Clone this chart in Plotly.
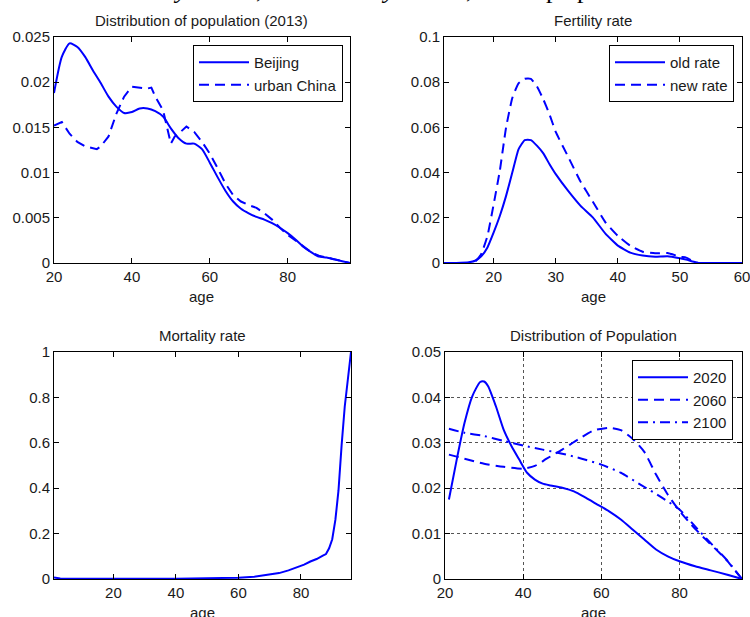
import plotly.graph_objects as go

# ---------------- data ----------------
ages_2013 = [20, 22, 24, 26, 28, 30, 32, 34, 36, 38, 40, 42, 44, 46, 48, 50, 52, 54, 56, 58,
             60, 62, 64, 66, 68, 70, 72, 74, 76, 78, 80, 82, 84, 86, 88, 90, 92, 94, 96]
beijing = [0.0188, 0.0228, 0.0243, 0.0239, 0.0228, 0.0213, 0.0199, 0.0184, 0.0173, 0.0166,
           0.0167, 0.0171, 0.0171, 0.0168, 0.0162, 0.0149, 0.0138, 0.0132, 0.0132, 0.0126,
           0.0111, 0.0095, 0.0080, 0.0068, 0.0060, 0.0055, 0.0051, 0.0048, 0.0044, 0.0039,
           0.0033, 0.0026, 0.0018, 0.0012, 0.0007, 0.0006, 0.0004, 0.0002, 0.0000]

ages_urban = [20, 22, 24, 26, 28, 30, 31, 32, 34, 36, 38, 40, 42, 44, 45, 46, 48, 49, 50, 51,
              52, 54, 56, 58, 60, 62, 64, 66, 68, 70, 72, 74, 76, 78, 80, 82, 84, 86, 88, 90,
              92, 94, 96]
urban_china = [0.0152, 0.0156, 0.0143, 0.0134, 0.0129, 0.0127, 0.0126, 0.0129, 0.0140, 0.0165,
               0.0184, 0.0195, 0.0194, 0.0193, 0.0194, 0.0184, 0.0169, 0.0151, 0.0132, 0.0140,
               0.0143, 0.0151, 0.0145, 0.0134, 0.0121, 0.0105, 0.0088, 0.0075, 0.0068, 0.0064,
               0.0061, 0.0055, 0.0048, 0.0039, 0.0031, 0.0025, 0.0018, 0.0012, 0.0008, 0.0006,
               0.0004, 0.0002, 0.0000]

ages_fert = [12, 14, 16, 17, 18, 19, 20, 21, 22, 23, 24, 25, 26, 27, 28, 29, 30, 32, 34, 36,
             38, 40, 42, 44, 46, 48, 50, 51, 52, 53, 56, 60]
old_rate = [0, 0, 0.0003, 0.0010, 0.0030, 0.0069, 0.0135, 0.0209, 0.0297, 0.0400, 0.0503,
            0.0544, 0.0544, 0.0518, 0.0485, 0.0437, 0.0393, 0.0319, 0.0253, 0.0201,
            0.0130, 0.0077, 0.0046, 0.0033, 0.0028, 0.0030, 0.0021, 0.0015, 0.0007, 0, 0, 0]
new_rate = [0, 0, 0, 0.0006, 0.0040, 0.0120, 0.0260, 0.0410, 0.0600, 0.0730, 0.0795,
            0.0815, 0.0815, 0.0780, 0.0724, 0.0657, 0.0580, 0.0470, 0.0360, 0.0270,
            0.0180, 0.0120, 0.0076, 0.0050, 0.0043, 0.0044, 0.0028, 0.0024, 0.0010, 0, 0, 0]

ages_mort = [1, 2, 3, 5, 10, 20, 30, 40, 50, 55, 60, 65, 70, 73, 76, 79, 81, 83, 85, 87,
             88, 89, 90, 91, 92, 93, 94, 95, 96]
mortality = [0.007, 0.004, 0.002, 0.001, 0.0005, 0.001, 0.001, 0.0015, 0.003, 0.004, 0.006,
             0.010, 0.018, 0.026, 0.038, 0.052, 0.063, 0.077, 0.088, 0.103, 0.110, 0.135,
             0.175, 0.26, 0.39, 0.59, 0.76, 0.88, 1.0]

ages_2020 = [21, 23, 25, 27, 29, 30, 31, 33, 35, 37, 39, 41, 43, 45, 47, 50, 53, 56, 59, 62,
             65, 68, 71, 74, 77, 80, 84, 88, 92, 96]
pop_2020 = [0.0175, 0.0263, 0.0344, 0.0403, 0.0434, 0.0435, 0.0425, 0.0381, 0.0329, 0.0293,
            0.0263, 0.0234, 0.0219, 0.0210, 0.0206, 0.0201, 0.0193, 0.0179, 0.0164, 0.0149,
            0.0131, 0.0109, 0.0087, 0.0065, 0.0050, 0.0039, 0.0028, 0.0019, 0.0010, 0.0]

ages_2060 = [21, 25, 30, 35, 40, 43, 46, 50, 54, 58, 62, 65, 68, 71, 74, 77, 80, 83, 86, 89,
             92, 96]
pop_2060 = [0.0274, 0.0265, 0.0254, 0.0247, 0.0243, 0.0249, 0.0265, 0.0285, 0.0307, 0.0327,
            0.0333, 0.0328, 0.0309, 0.0280, 0.0230, 0.0186, 0.0150, 0.0120, 0.0093, 0.0068,
            0.0042, 0.0]

ages_2100 = [21, 25, 30, 35, 40, 45, 50, 55, 60, 65, 70, 75, 80, 84, 88, 92, 96]
pop_2100 = [0.0331, 0.0322, 0.0315, 0.0304, 0.0294, 0.0285, 0.0276, 0.0265, 0.0252, 0.0234,
            0.0208, 0.0182, 0.0153, 0.0116, 0.0079, 0.0043, 0.0]

panel_titles = ["Distribution of population (2013)", "Fertility rate",
                "Mortality rate", "Distribution of Population"]
x_label = "age"

# ---------------- styling ----------------
W, H = 750, 617
BLUE = "#0000ff"
FONT = "Liberation Sans, Arial, Helvetica, sans-serif"
TXT = "#1a1a1a"
LW = 2
DASH = "10px,6px"
DASHDOT = "10px,5px,2px,5px"


def px(v):  # horizontal pixel -> paper
    return v / W


def py(v):  # vertical pixel (from top) -> paper
    return 1 - v / H


fig = go.Figure()

fig.add_trace(go.Scatter(x=ages_2013, y=beijing, name="Beijing", mode="lines",
                         line=dict(color=BLUE, width=LW, shape="spline", smoothing=0.6),
                         xaxis="x", yaxis="y", legend="legend"))
fig.add_trace(go.Scatter(x=ages_urban, y=urban_china, name="urban China", mode="lines",
                         line=dict(color=BLUE, width=LW, dash=DASH),
                         xaxis="x", yaxis="y", legend="legend"))

fig.add_trace(go.Scatter(x=ages_fert, y=old_rate, name="old rate", mode="lines",
                         line=dict(color=BLUE, width=LW, shape="spline", smoothing=0.4),
                         xaxis="x2", yaxis="y2", legend="legend2"))
fig.add_trace(go.Scatter(x=ages_fert, y=new_rate, name="new rate", mode="lines",
                         line=dict(color=BLUE, width=LW, dash=DASH, shape="spline", smoothing=0.4),
                         xaxis="x2", yaxis="y2", legend="legend2"))

fig.add_trace(go.Scatter(x=ages_mort, y=mortality, name="mortality", mode="lines",
                         line=dict(color=BLUE, width=LW), showlegend=False,
                         xaxis="x3", yaxis="y3"))

fig.add_trace(go.Scatter(x=ages_2020, y=pop_2020, name="2020", mode="lines",
                         line=dict(color=BLUE, width=LW, shape="spline", smoothing=0.6),
                         xaxis="x4", yaxis="y4", legend="legend3"))
fig.add_trace(go.Scatter(x=ages_2060, y=pop_2060, name="2060", mode="lines",
                         line=dict(color=BLUE, width=LW, dash=DASH, shape="spline", smoothing=0.6),
                         xaxis="x4", yaxis="y4", legend="legend3"))
fig.add_trace(go.Scatter(x=ages_2100, y=pop_2100, name="2100", mode="lines",
                         line=dict(color=BLUE, width=LW, dash=DASHDOT, shape="spline", smoothing=0.6),
                         xaxis="x4", yaxis="y4", legend="legend3"))

axis_common = dict(showline=True, linecolor="black", linewidth=1, mirror="ticks",
                   ticks="inside", ticklen=5, tickcolor="black", showgrid=False,
                   zeroline=False, ticklabeloverflow="allow",
                   tickfont=dict(family=FONT, size=15, color=TXT))
grid = dict(showgrid=True, griddash="dot", gridcolor="#555555", gridwidth=1)

top_dom = [py(263), py(37)]
bot_dom = [py(579), py(352)]

legend_common = dict(bordercolor="black", borderwidth=1, bgcolor="white",
                     font=dict(family=FONT, size=15, color=TXT),
                     xanchor="right", yanchor="top", tracegroupgap=0, itemwidth=50)

fig.update_layout(
    width=W, height=H, margin=dict(l=0, r=0, t=0, b=0, autoexpand=False),
    paper_bgcolor="white", plot_bgcolor="white",
    font=dict(family=FONT, size=15, color=TXT),
    xaxis=dict(axis_common, domain=[px(54), px(350)], anchor="y", range=[20, 96],
               tickvals=[20, 40, 60, 80]),
    yaxis=dict(axis_common, domain=top_dom, anchor="x", range=[0, 0.025], dtick=0.005),
    xaxis2=dict(axis_common, domain=[px(444), px(742)], anchor="y2", range=[12, 60],
                tickvals=[20, 30, 40, 50, 60]),
    yaxis2=dict(axis_common, domain=top_dom, anchor="x2", range=[0, 0.1], dtick=0.02),
    xaxis3=dict(axis_common, domain=[px(54), px(351)], anchor="y3", range=[1, 96],
                tickvals=[20, 40, 60, 80]),
    yaxis3=dict(axis_common, domain=bot_dom, anchor="x3", range=[0, 1], dtick=0.2),
    xaxis4=dict(axis_common, **grid, domain=[px(445), px(742)], anchor="y4", range=[20, 96],
                tickvals=[20, 40, 60, 80]),
    yaxis4=dict(axis_common, **grid, domain=bot_dom, anchor="x4", range=[0, 0.05], dtick=0.01),
    legend=dict(legend_common, x=px(343), y=py(45)),
    legend2=dict(legend_common, x=px(734), y=py(45)),
    legend3=dict(legend_common, x=px(733), y=py(360)),
)

ann = []
title_pos = [((54 + 350) / 2, 20), ((444 + 742) / 2, 20), ((54 + 351) / 2, 336), ((445 + 742) / 2, 336)]
for t, (cx, cy) in zip(panel_titles, title_pos):
    ann.append(dict(text=t, x=px(cx), y=py(cy), xref="paper", yref="paper",
                    xanchor="center", yanchor="middle", showarrow=False,
                    font=dict(family=FONT, size=15, color=TXT)))
label_pos = [((54 + 350) / 2, 296), ((444 + 742) / 2, 296), ((54 + 351) / 2, 612), ((445 + 742) / 2, 612)]
for (cx, cy) in label_pos:
    ann.append(dict(text=x_label, x=px(cx), y=py(cy), xref="paper", yref="paper",
                    xanchor="center", yanchor="middle", showarrow=False,
                    font=dict(family=FONT, size=15, color=TXT)))

# clipped fragments of the page text above the figure
frag = [("<i>y</i>", 180), (",", 259), ("<i>y</i>", 388), (",", 469), ("p", 552), ("p", 583)]
for t, cx in frag:
    ann.append(dict(text=t, x=px(cx), y=py(-11), xref="paper", yref="paper",
                    xanchor="center", yanchor="middle", showarrow=False,
                    font=dict(family="Liberation Serif, Times New Roman, serif", size=26,
                              color="black")))

fig.update_layout(annotations=ann)

fig.write_html("out.html", config={"displayModeBar": False},
               post_script="document.body.style.margin='0';document.body.style.overflow='hidden';")
